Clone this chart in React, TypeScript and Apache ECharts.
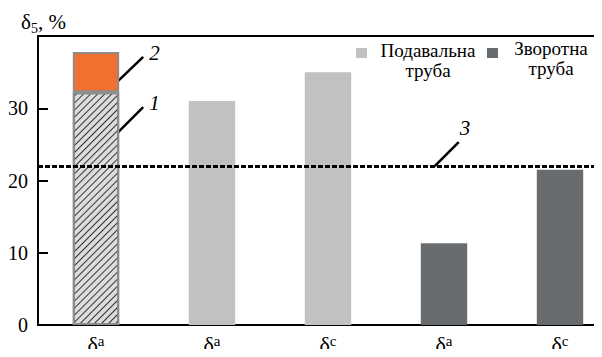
import React, { useEffect, useRef } from "react";
import * as echarts from "echarts";

const categories = ["a", "a", "c", "a", "c"];
const hatchedValues: (number | null)[] = [32.2, null, null, null, null];
const orangeValues: (number | null)[] = [5.6, null, null, null, null];
const supplyValues: (number | null)[] = [null, 31, 35, null, null];
const returnValues: (number | null)[] = [null, null, null, 11.3, 21.5];
const thresholdValue = 22;
const yMax = 40;
const yInterval = 10;
const legendLine1 = ["Подавальна", "Зворотна"];
const legendLine2 = ["труба", "труба"];

const FONT = "Liberation Serif";
const C_LIGHT = "#c0c1c2";
const C_DARK = "#696c6f";
const C_ORANGE = "#f2702d";
const C_HATCH = "#dcdcda";
const C_OUTLINE = "#8c8c8c";

function fixFonts(root: HTMLElement | null) {
  if (!root) return;
  root.querySelectorAll("text, tspan").forEach((node) => {
    const t = node as SVGTextElement;
    const s = t.style;
    const fam = s.fontFamily || FONT;
    const size = s.fontSize;
    const fst = s.fontStyle;
    const fw = s.fontWeight;
    s.removeProperty("font");
    s.fontFamily = fam;
    if (size) s.fontSize = size;
    if (fst && fst !== "normal") s.fontStyle = fst;
    if (fw && fw !== "normal" && fw !== "400") s.fontWeight = fw;
    t.setAttribute("font-family", fam.replace(/"/g, ""));
    if (size) t.setAttribute("font-size", size);
    if (fst && fst !== "normal") t.setAttribute("font-style", fst);
  });
}

export default function App() {
  const ref = useRef<HTMLDivElement>(null);
  useEffect(() => {
    if (!ref.current) return;
    const chart = echarts.init(ref.current, undefined, { renderer: "svg" });
    const option: any = {
      animation: false,
      textStyle: { fontFamily: FONT },
      grid: {
        left: 38,
        top: 36,
        width: 580,
        height: 289,
        show: true,
        borderColor: "#000",
        borderWidth: 2,
        outerBoundsMode: "none",
        containLabel: false,
      },
      xAxis: {
        type: "category",
        data: categories,
        axisLine: { lineStyle: { color: "#000", width: 2 } },
        axisTick: { show: false },
        axisLabel: {
          margin: 8,
          fontFamily: FONT,
          formatter: (v: string) => `{d|δ}{s|${v}}`,
          rich: {
            d: { fontFamily: FONT, fontSize: 22, color: "#000", verticalAlign: "bottom", lineHeight: 22 },
            s: { fontFamily: FONT, fontSize: 15, color: "#000", verticalAlign: "top", lineHeight: 15 },
          },
        },
      },
      yAxis: {
        type: "value",
        min: 0,
        max: yMax,
        interval: yInterval,
        axisLine: { show: true, lineStyle: { color: "#000", width: 2 } },
        axisTick: { show: true, inside: true, length: 10, lineStyle: { color: "#000", width: 2 } },
        splitLine: { show: false },
        axisLabel: {
          margin: 10,
          fontFamily: FONT,
          fontSize: 20,
          color: "#000",
          formatter: (v: number) => (v >= yMax ? "" : String(v)),
        },
      },
      series: [
        {
          type: "bar",
          stack: "s",
          barWidth: "40%",
          data: hatchedValues,
          itemStyle: {
            color: C_HATCH,
            borderColor: C_OUTLINE,
            borderWidth: 2,
            decal: {
              symbol: "rect",
              symbolSize: 1,
              dashArrayX: [1, 0],
              dashArrayY: [1, 4],
              rotation: -Math.PI / 4,
              color: "#333",
            },
          },
          markLine: {
            silent: true,
            symbol: "none",
            label: { show: false },
            lineStyle: { color: "#000", type: [5, 2], width: 3 },
            data: [{ yAxis: thresholdValue }],
          },
        },
        {
          type: "bar",
          stack: "s",
          barWidth: "40%",
          data: orangeValues,
          itemStyle: { color: C_ORANGE, borderColor: C_OUTLINE, borderWidth: 2 },
        },
        {
          type: "bar",
          stack: "s",
          barWidth: "40%",
          data: supplyValues,
          itemStyle: { color: C_LIGHT },
        },
        {
          type: "bar",
          stack: "s",
          barWidth: "40%",
          data: returnValues,
          itemStyle: { color: C_DARK },
        },
      ],
    };
    chart.setOption(option);

    const px = (ci: number, v: number) => chart.convertToPixel({ gridIndex: 0 }, [ci, v]) as number[];
    const p0 = px(0, 0);
    const p1 = px(1, 0);
    const band = p1[0] - p0[0];
    const half = band * 0.2;
    const bar1Right = p0[0] + half - 1;
    const a2 = px(0, 33.8);
    const a1 = px(0, 26.7);
    const a3 = px(3, thresholdValue);
    const a3x = a3[0] - band * 0.08;

    const lineStyle = { stroke: "#000", lineWidth: 2.5 };
    const annText = (x: number, y: number, t: string) => ({
      type: "text",
      x,
      y,
      style: { text: t, fontFamily: FONT, fontSize: 21, fontStyle: "italic", fill: "#000" },
    });
    const legText = (x: number, y: number, t: string) => ({
      type: "text",
      x,
      y,
      style: { text: t, fontFamily: FONT, fontSize: 19, fill: "#000", align: "center" },
    });

    chart.setOption({
      graphic: [
        {
          type: "text",
          x: 21,
          y: 9,
          style: {
            text: "{d|δ}{s|5}{n|, %}",
            fontFamily: FONT,
            rich: {
              d: { fontFamily: FONT, fontSize: 21, fill: "#000" },
              s: { fontFamily: FONT, fontSize: 14, fill: "#000", padding: [12, 0, 0, 0] },
              n: { fontFamily: FONT, fontSize: 21, fill: "#000" },
            },
          },
        },
        { type: "line", shape: { x1: bar1Right, y1: a2[1], x2: bar1Right + 25, y2: a2[1] - 24 }, style: lineStyle },
        annText(bar1Right + 31, a2[1] - 38, "2"),
        { type: "line", shape: { x1: bar1Right, y1: a1[1], x2: bar1Right + 25, y2: a1[1] - 25 }, style: lineStyle },
        annText(bar1Right + 31, a1[1] - 40, "1"),
        { type: "line", shape: { x1: a3x, y1: a3[1], x2: a3x + 24, y2: a3[1] - 24 }, style: lineStyle },
        annText(a3x + 25, a3[1] - 49, "3"),
        { type: "rect", shape: { x: 356, y: 48, width: 11, height: 10 }, style: { fill: C_LIGHT } },
        legText(428, 41, legendLine1[0]),
        legText(428, 61, legendLine2[0]),
        { type: "rect", shape: { x: 487, y: 48, width: 11, height: 10 }, style: { fill: C_DARK } },
        legText(551, 39, legendLine1[1]),
        legText(551, 59, legendLine2[1]),
      ],
    });

    const el = ref.current;
    fixFonts(el);
    chart.on("finished", () => fixFonts(el));
    const tm = window.setTimeout(() => fixFonts(el), 50);

    return () => {
      window.clearTimeout(tm);
      chart.dispose();
    };
  }, []);
  return (
    <div style={{ margin: -8, width: 602, height: 357, fontFamily: FONT }}>
      <div ref={ref} style={{ width: 602, height: 357, background: "#fff" }} />
    </div>
  );
}
